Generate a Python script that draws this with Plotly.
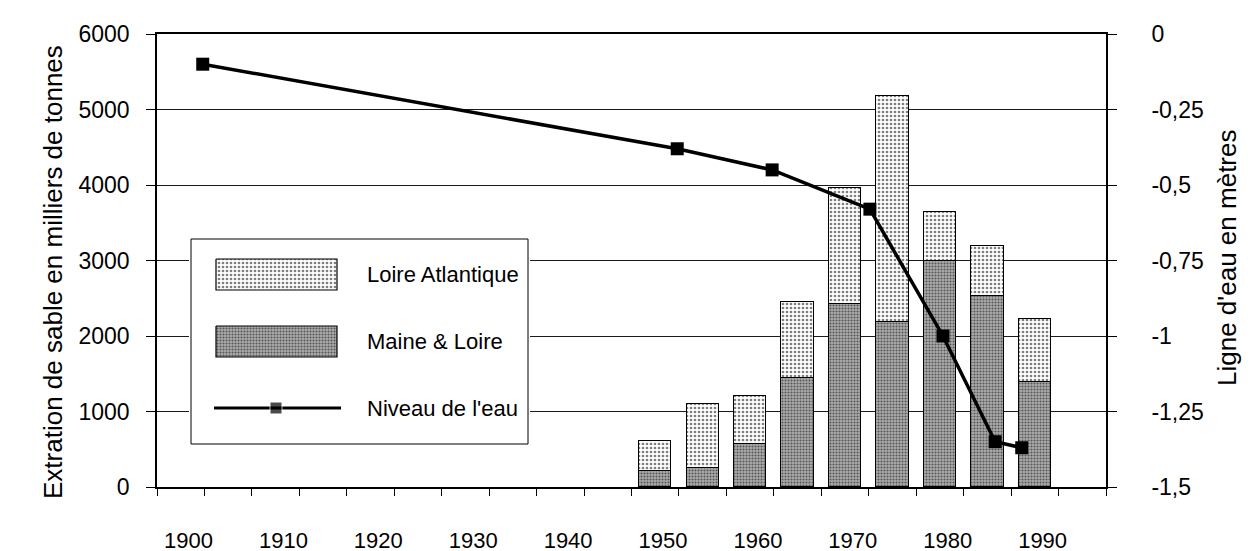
import plotly.graph_objects as go

# ---------------- data ----------------
bar_years = [1950, 1955, 1960, 1965, 1970, 1975, 1980, 1985, 1990]
maine_loire = [215, 255, 575, 1440, 2430, 2180, 2990, 2530, 1385]
loire_atlantique = [390, 845, 630, 1010, 1530, 3000, 655, 660, 835]

level_years = [1901.5, 1951.5, 1961.5, 1971.8, 1979.5, 1985.0, 1987.8]
level_m = [-0.10, -0.38, -0.45, -0.58, -1.00, -1.35, -1.37]

label_years = [1900, 1910, 1920, 1930, 1940, 1950, 1960, 1970, 1980, 1990]
left_ticks = [0, 1000, 2000, 3000, 4000, 5000, 6000]
right_ticks = [0, -0.25, -0.5, -0.75, -1, -1.25, -1.5]
right_ticktext = ["0", "-0,25", "-0,5", "-0,75", "-1", "-1,25", "-1,5"]
cat_edges = [1897.5 + 5 * i for i in range(21)]

FONT = "Liberation Sans, Arial, Helvetica, sans-serif"
W, H = 1253, 551
L, R, T, B = 149, 155, 26, 72
PW, PH = W - L - R, H - T - B

pat_la = dict(shape=".", fgcolor="#000000", bgcolor="#ffffff", size=4, solidity=0.36)
pat_ml = dict(shape=".", fgcolor="#000000", bgcolor="#adadad", size=3, solidity=0.38)

fig = go.Figure()
fig.add_trace(go.Bar(x=bar_years, y=maine_loire, name="Maine & Loire", width=3.4,
                     marker=dict(color="#adadad", pattern=pat_ml,
                                 line=dict(color="black", width=1.3)),
                     xaxis="x", yaxis="y", showlegend=False))
fig.add_trace(go.Bar(x=bar_years, y=loire_atlantique, name="Loire Atlantique", width=3.4,
                     marker=dict(color="#ffffff", pattern=pat_la,
                                 line=dict(color="black", width=1.3)),
                     xaxis="x", yaxis="y", showlegend=False))
fig.add_trace(go.Scatter(x=level_years, y=level_m, name="Niveau de l'eau",
                         mode="lines+markers",
                         line=dict(color="black", width=3.5),
                         marker=dict(symbol="square", size=13, color="black"),
                         xaxis="x2", yaxis="y2", showlegend=False))

# ---------------- legend drawn in its own pixel-unit subplot ----------------
lx0, lx1, ly0, ly1 = 181, 522, 229, 438
fig.add_trace(go.Scatter(x=[183, 520, 520, 183, 183], y=[231, 231, 436, 436, 231],
                         mode="lines", fill="toself", fillcolor="white",
                         line=dict(color="black", width=1),
                         xaxis="x4", yaxis="y4", showlegend=False, hoverinfo="skip"))
fig.add_trace(go.Scatter(x=[208, 329, 329, 208, 208], y=[251, 251, 282, 282, 251],
                         mode="lines", fill="toself", fillcolor="white", fillpattern=pat_la,
                         line=dict(color="black", width=1.2),
                         xaxis="x4", yaxis="y4", showlegend=False, hoverinfo="skip"))
fig.add_trace(go.Scatter(x=[208, 329, 329, 208, 208], y=[318, 318, 349, 349, 318],
                         mode="lines", fill="toself", fillcolor="#adadad", fillpattern=pat_ml,
                         line=dict(color="black", width=1.2),
                         xaxis="x4", yaxis="y4", showlegend=False, hoverinfo="skip"))
fig.add_trace(go.Scatter(x=[206, 268, 333], y=[400, 400, 400], mode="lines+markers",
                         line=dict(color="black", width=3),
                         marker=dict(symbol="square", size=[0, 12, 0], color="black"),
                         xaxis="x4", yaxis="y4", showlegend=False, hoverinfo="skip"))
for txt, yy in [("Loire Atlantique", 266), ("Maine & Loire", 333), ("Niveau de l'eau", 400)]:
    fig.add_annotation(x=357, y=yy, xref="x4", yref="y4", text=txt, showarrow=False,
                       xanchor="left", yanchor="middle", font=dict(family=FONT, size=22, color="black"))

axis_common = dict(color="black", zeroline=False, automargin=False)
fig.update_layout(
    width=W, height=H,
    margin=dict(l=L, r=R, t=T, b=B, autoexpand=False),
    paper_bgcolor="white", plot_bgcolor="white",
    barmode="stack", bargap=0,
    font=dict(family=FONT, size=22, color="black"),
    xaxis=dict(range=[1897.5, 1997.5], tickvals=cat_edges, ticktext=[""] * len(cat_edges),
               ticks="outside", ticklen=7, tickwidth=1.2, tickcolor="black",
               showline=True, linecolor="black", linewidth=1.6, mirror=True,
               showgrid=False, **axis_common),
    xaxis3=dict(overlaying="x", anchor="y", range=[1897.5, 1997.5], tickvals=cat_edges,
                ticktext=[""] * len(cat_edges), ticks="inside", ticklen=7, tickwidth=1.2,
                tickcolor="black", showline=False, showgrid=False, **axis_common),
    xaxis2=dict(overlaying="x", anchor="y", range=[1896.68, 1996.68], tickvals=label_years,
                ticktext=[str(v) for v in label_years], ticks="", showline=False, showgrid=False,
                ticklabelstandoff=38, tickfont=dict(family=FONT, size=22), **axis_common),
    yaxis=dict(range=[0, 6000], tickvals=left_ticks, ticktext=[str(v) for v in left_ticks],
               ticks="outside", ticklen=9, tickwidth=1.2, tickcolor="black",
               showline=True, linecolor="black", linewidth=1.6,
               showgrid=True, gridcolor="#1a1a1a", gridwidth=1,
               ticklabelstandoff=12, tickfont=dict(family=FONT, size=23), **axis_common),
    yaxis2=dict(overlaying="y", side="right", anchor="x", range=[-1.5, 0], tickvals=right_ticks,
                ticktext=right_ticktext, ticks="outside", ticklen=9, tickwidth=1.2, tickcolor="black",
                showline=True, linecolor="black", linewidth=1.6, showgrid=False,
                ticklabelstandoff=30, tickfont=dict(family=FONT, size=23), **axis_common),
    xaxis4=dict(domain=[(lx0 - L) / PW, (lx1 - L) / PW], range=[lx0, lx1], anchor="y4",
                visible=False, fixedrange=True),
    yaxis4=dict(domain=[(H - B - ly1) / PH, (H - B - ly0) / PH], range=[ly1, ly0], anchor="x4",
                visible=False, fixedrange=True),
)

fig.add_annotation(text="Extration de sable en milliers de tonnes", textangle=-90,
                   xref="paper", yref="paper", x=0, y=(H - B - 264) / PH, xshift=-(L - 28),
                   showarrow=False, font=dict(family=FONT, size=26, color="black"))
fig.add_annotation(text="Ligne d'eau en mètres", textangle=-90,
                   xref="paper", yref="paper", x=1, y=(H - B - 250) / PH, xshift=1236 - (W - R),
                   showarrow=False, font=dict(family=FONT, size=26, color="black"))

fig.write_html("out.html")
